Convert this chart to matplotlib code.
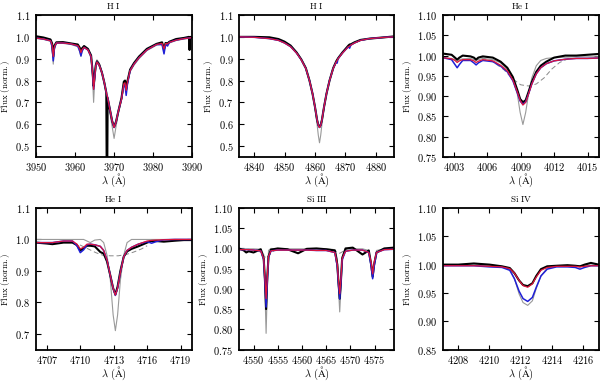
import numpy as np
import matplotlib
matplotlib.use("Agg")
import matplotlib.pyplot as plt

plt.rcParams['font.family'] = 'cmr10'
plt.rcParams['mathtext.fontset'] = 'cm'
plt.rcParams['axes.formatter.use_mathtext'] = True

# ---- H I (3970) ----
wl1 = [3950, 3952, 3953.8, 3954.2, 3954.5, 3954.8, 3955.3, 3957, 3959, 3960.8,
       3961.3, 3961.6, 3961.9, 3962.4, 3963.4, 3964.2, 3964.6, 3964.85, 3965.1, 3965.4,
       3965.7, 3966.3, 3967.0, 3967.6, 3968.1, 3968.2, 3968.35, 3968.45, 3969.0, 3969.6,
       3970.1, 3970.6, 3971.2, 3972.0, 3972.6, 3972.9, 3973.2, 3973.5, 3974.2, 3975.2,
       3976.5, 3978.5, 3981.0, 3982.4, 3982.9, 3983.3, 3983.8, 3984.3, 3986, 3988,
       3989.3, 3989.45, 3989.6, 3990]
red1 = [0.995, 0.99, 0.982, 0.965, 0.91, 0.955, 0.972, 0.972, 0.968, 0.96,
        0.945, 0.928, 0.942, 0.952, 0.94, 0.91, 0.83, 0.76, 0.81, 0.865,
        0.885, 0.87, 0.835, 0.79, 0.745, 0.738, 0.73, 0.722, 0.67, 0.615,
        0.585, 0.61, 0.66, 0.715, 0.785, 0.79, 0.755, 0.79, 0.845, 0.875,
        0.905, 0.94, 0.965, 0.97, 0.945, 0.97, 0.968, 0.975, 0.985, 0.992,
        0.995, 0.995, 0.995, 0.997]
blue1 = [0.995, 0.99, 0.982, 0.955, 0.89, 0.95, 0.972, 0.972, 0.968, 0.958,
         0.935, 0.913, 0.935, 0.952, 0.94, 0.91, 0.83, 0.76, 0.81, 0.865,
         0.885, 0.87, 0.835, 0.79, 0.745, 0.738, 0.73, 0.722, 0.67, 0.615,
         0.585, 0.61, 0.66, 0.715, 0.78, 0.78, 0.732, 0.78, 0.845, 0.875,
         0.905, 0.94, 0.965, 0.965, 0.922, 0.965, 0.958, 0.975, 0.985, 0.992,
         0.995, 0.995, 0.995, 0.997]
grey1 = [0.993, 0.988, 0.98, 0.95, 0.875, 0.945, 0.97, 0.97, 0.965, 0.955,
         0.93, 0.91, 0.935, 0.95, 0.94, 0.9, 0.8, 0.70, 0.79, 0.87,
         0.895, 0.88, 0.84, 0.785, 0.74, 0.73, 0.72, 0.71, 0.655, 0.59,
         0.535, 0.59, 0.65, 0.71, 0.78, 0.78, 0.745, 0.785, 0.84, 0.87,
         0.9, 0.937, 0.962, 0.965, 0.93, 0.965, 0.965, 0.972, 0.983, 0.99,
         0.993, 0.993, 0.993, 0.995]
obs1 = [1.003, 0.997, 0.988, 0.97, 0.91, 0.96, 0.975, 0.976, 0.97, 0.965,
        0.95, 0.93, 0.948, 0.958, 0.945, 0.915, 0.84, 0.775, 0.82, 0.87,
        0.888, 0.872, 0.835, 0.79, 0.745, 0.40, 0.40, 0.72, 0.67, 0.615,
        0.588, 0.612, 0.66, 0.72, 0.795, 0.80, 0.76, 0.795, 0.85, 0.88,
        0.91, 0.945, 0.968, 0.975, 0.945, 0.972, 0.97, 0.978, 0.99, 0.995,
        1.0, 0.94, 1.0, 0.998]

# ---- H I (4861) ----
wl2 = [4835, 4840, 4845, 4848, 4850, 4852, 4854, 4855.5, 4857, 4858.2,
       4859.2, 4860.0, 4860.7, 4861.1, 4861.5, 4861.9, 4862.3, 4863.0, 4863.8, 4864.8,
       4866.0, 4867.0, 4867.3, 4867.6, 4869.0, 4871.0, 4871.4, 4871.8, 4873.0, 4875.0,
       4878.0, 4883.0, 4886]
red2 = [1.0, 0.998, 0.992, 0.984, 0.972, 0.955, 0.925, 0.895, 0.855, 0.80,
        0.74, 0.68, 0.62, 0.595, 0.585, 0.595, 0.62, 0.68, 0.74, 0.80,
        0.855, 0.885, 0.893, 0.90, 0.925, 0.955, 0.958, 0.962, 0.972, 0.984,
        0.992, 0.998, 1.0]
blue2 = [1.0, 0.998, 0.992, 0.984, 0.972, 0.955, 0.925, 0.895, 0.855, 0.80,
         0.74, 0.68, 0.62, 0.595, 0.585, 0.595, 0.62, 0.68, 0.74, 0.80,
         0.855, 0.885, 0.88, 0.90, 0.925, 0.955, 0.948, 0.962, 0.972, 0.984,
         0.992, 0.998, 1.0]
grey2 = [1.0, 0.998, 0.992, 0.984, 0.972, 0.955, 0.925, 0.895, 0.855, 0.80,
         0.74, 0.675, 0.60, 0.55, 0.515, 0.55, 0.60, 0.675, 0.74, 0.80,
         0.855, 0.885, 0.893, 0.90, 0.925, 0.955, 0.958, 0.962, 0.972, 0.984,
         0.992, 0.998, 1.0]
obs2 = [1.0, 1.0, 0.998, 0.99, 0.978, 0.96, 0.928, 0.897, 0.857, 0.80,
        0.74, 0.68, 0.62, 0.597, 0.588, 0.597, 0.62, 0.68, 0.74, 0.80,
        0.857, 0.888, 0.895, 0.902, 0.928, 0.96, 0.965, 0.966, 0.975, 0.986,
        0.992, 0.998, 1.002]

# ---- He I (4009) ----
wl3 = [4002, 4002.8, 4003.1, 4003.3, 4003.5, 4003.8, 4004.5, 4004.8, 4005.0, 4005.2,
       4005.6, 4006.5, 4007.2, 4007.8, 4008.3, 4008.7, 4008.95, 4009.2, 4009.45, 4009.7,
       4010.0, 4010.4, 4010.8, 4011.3, 4012.0, 4013.0, 4014.0, 4015.0, 4016.0]
red3 = [0.995, 0.992, 0.988, 0.983, 0.987, 0.99, 0.99, 0.987, 0.983, 0.986,
        0.99, 0.987, 0.976, 0.962, 0.94, 0.91, 0.89, 0.878, 0.885, 0.905,
        0.93, 0.955, 0.97, 0.98, 0.987, 0.991, 0.993, 0.993, 0.994]
blue3 = [0.995, 0.99, 0.978, 0.97, 0.978, 0.988, 0.988, 0.982, 0.977, 0.982,
         0.988, 0.985, 0.974, 0.96, 0.938, 0.908, 0.888, 0.88, 0.886, 0.905,
         0.93, 0.955, 0.97, 0.98, 0.987, 0.991, 0.993, 0.993, 0.994]
grey3 = [0.995, 0.993, 0.99, 0.986, 0.99, 0.992, 0.993, 0.99, 0.988, 0.99,
         0.993, 0.99, 0.982, 0.965, 0.94, 0.905, 0.86, 0.83, 0.86, 0.905,
         0.945, 0.975, 0.988, 0.993, 0.995, 0.996, 0.997, 0.997, 0.997]
obs3 = [1.005, 1.002, 0.995, 0.99, 0.995, 1.0, 0.998, 0.995, 0.99, 0.995,
        0.998, 0.995, 0.985, 0.97, 0.947, 0.915, 0.893, 0.885, 0.89, 0.91,
        0.935, 0.96, 0.975, 0.985, 0.995, 1.0, 1.0, 1.002, 1.004]
dwl3 = [4005.5, 4006.5, 4007.5, 4008.3, 4009.0, 4009.7, 4010.4, 4011.1, 4011.8, 4012.5, 4013.5]
dash3 = [0.995, 0.985, 0.965, 0.942, 0.928, 0.925, 0.93, 0.945, 0.967, 0.983, 0.995]

# ---- He I (4713) ----
wl4 = [4706, 4707, 4707.5, 4708.5, 4709.3, 4709.7, 4710.0, 4710.3, 4710.6, 4710.9,
       4711.3, 4711.8, 4712.1, 4712.4, 4712.7, 4712.95, 4713.15, 4713.35, 4713.6, 4713.9,
       4714.2, 4714.6, 4715.2, 4716.0, 4716.4, 4716.8, 4717.5, 4718.5, 4719.3, 4720]
red4 = [0.99, 0.99, 0.99, 0.995, 0.995, 0.985, 0.97, 0.975, 0.985, 0.985,
        0.983, 0.978, 0.965, 0.935, 0.885, 0.845, 0.823, 0.845, 0.895, 0.945,
        0.965, 0.975, 0.985, 0.995, 0.997, 0.998, 0.999, 1.0, 1.0, 1.0]
blue4 = [0.99, 0.99, 0.99, 0.995, 0.995, 0.98, 0.958, 0.967, 0.983, 0.985,
         0.983, 0.978, 0.965, 0.935, 0.885, 0.845, 0.822, 0.845, 0.895, 0.945,
         0.965, 0.975, 0.985, 0.993, 0.988, 0.993, 0.999, 1.0, 1.0, 1.0]
grey4 = [1.0, 1.0, 1.0, 1.0, 1.0, 1.0, 1.0, 1.0, 0.995, 0.99,
         0.998, 1.0, 0.99, 0.95, 0.87, 0.76, 0.71, 0.76, 0.87, 0.95,
         0.99, 1.0, 1.0, 1.0, 1.0, 1.0, 1.0, 1.0, 1.0, 1.0]
obs4 = [0.99, 0.987, 0.985, 0.99, 0.99, 0.982, 0.965, 0.972, 0.98, 0.98,
        0.978, 0.96, 0.955, 0.93, 0.885, 0.845, 0.825, 0.85, 0.9, 0.945,
        0.962, 0.97, 0.978, 0.99, 0.995, 0.995, 0.993, 0.996, 0.998, 0.998]
dwl4 = [4709.3, 4710.0, 4710.7, 4711.4, 4712.0, 4712.7, 4713.4, 4714.1, 4714.8, 4715.5, 4716.0]
dash4 = [0.99, 0.982, 0.97, 0.958, 0.95, 0.948, 0.948, 0.952, 0.96, 0.97, 0.98]

# ---- Si III ----
wl5 = [4547, 4548, 4548.5, 4549, 4550, 4551.5, 4552.1, 4552.35, 4552.6, 4552.85,
       4553.1, 4553.6, 4555, 4557, 4559.2, 4561, 4563, 4565, 4566.8, 4567.3,
       4567.55, 4567.8, 4568.05, 4568.3, 4569, 4570.5, 4572.5, 4573.8, 4574.3, 4574.6,
       4574.9, 4575.4, 4577, 4579]
red5 = [0.997, 0.997, 0.997, 0.997, 0.996, 0.994, 0.975, 0.93, 0.876, 0.93,
        0.98, 0.994, 0.996, 0.996, 0.996, 0.996, 0.995, 0.995, 0.99, 0.96,
        0.92, 0.888, 0.925, 0.975, 0.993, 0.996, 0.996, 0.99, 0.965, 0.937,
        0.965, 0.99, 0.997, 0.998]
blue5 = [0.997, 0.997, 0.997, 0.997, 0.996, 0.994, 0.972, 0.92, 0.855, 0.92,
         0.978, 0.994, 0.996, 0.996, 0.996, 0.996, 0.995, 0.995, 0.99, 0.955,
         0.91, 0.875, 0.915, 0.972, 0.993, 0.996, 0.996, 0.99, 0.955, 0.925,
         0.955, 0.99, 0.997, 0.998]
grey5 = [0.999, 0.999, 0.999, 0.999, 0.999, 0.998, 0.985, 0.9, 0.79, 0.9,
         0.995, 1.0, 0.999, 0.999, 0.999, 0.999, 0.999, 0.999, 0.997, 0.975,
         0.9, 0.843, 0.9, 0.98, 0.998, 0.999, 0.999, 0.995, 0.96, 0.93,
         0.96, 0.995, 0.999, 0.999]
obs5 = [1.0, 0.995, 0.99, 0.993, 0.99, 0.998, 0.975, 0.925, 0.85, 0.93,
        0.98, 0.997, 1.0, 0.998, 0.988, 0.999, 1.0, 0.998, 0.995, 0.96,
        0.915, 0.876, 0.92, 0.975, 1.0, 1.002, 0.985, 0.995, 0.96, 0.93,
        0.96, 0.99, 1.0, 1.002]
dwl5 = [4550.5, 4551.5, 4552.6, 4553.7, 4554.7, np.nan, 4566.3, 4567.8, 4569.3]
dash5 = [0.998, 0.99, 0.976, 0.99, 0.998, np.nan, 0.998, 0.988, 0.998]

# ---- Si IV ----
wl6 = [4207, 4208, 4209, 4210, 4210.8, 4211.3, 4211.6, 4211.9, 4212.15, 4212.45,
       4212.75, 4213.0, 4213.3, 4213.7, 4214.3, 4215.0, 4215.5, 4215.8, 4216.1, 4216.5, 4217]
red6 = [0.998, 0.998, 0.998, 0.997, 0.996, 0.993, 0.985, 0.972, 0.963, 0.96,
        0.966, 0.978, 0.99, 0.995, 0.997, 0.997, 0.997, 0.996, 0.997, 0.998, 0.998]
blue6 = [0.998, 0.998, 0.998, 0.996, 0.995, 0.99, 0.975, 0.953, 0.94, 0.935,
         0.942, 0.96, 0.98, 0.992, 0.996, 0.996, 0.995, 0.992, 0.995, 0.998, 0.998]
grey6 = [0.999, 0.999, 0.999, 0.998, 0.997, 0.992, 0.975, 0.948, 0.933, 0.928,
         0.936, 0.958, 0.98, 0.994, 0.998, 0.998, 0.998, 0.998, 0.998, 0.999, 0.999]
obs6 = [1.0, 1.0, 1.002, 1.0, 0.997, 0.994, 0.985, 0.972, 0.964, 0.962,
        0.967, 0.98, 0.992, 0.997, 0.998, 0.999, 0.998, 0.997, 1.0, 1.003, 1.0]

titles = [r'$\mathrm{H\ I}$', r'$\mathrm{H\ I}$', r'$\mathrm{He\ I}$',
          r'$\mathrm{He\ I}$', r'$\mathrm{Si\ III}$', r'$\mathrm{Si\ IV}$']

panels = [
    (wl1, obs1, blue1, red1, grey1, None, None, (3950, 3990), (0.45, 1.1), np.arange(3950, 3991, 10), np.arange(0.5, 1.11, 0.1)),
    (wl2, obs2, blue2, red2, grey2, None, None, (4835, 4886), (0.45, 1.1), np.arange(4840, 4881, 10), np.arange(0.5, 1.11, 0.1)),
    (wl3, obs3, blue3, red3, grey3, dwl3, dash3, (4002, 4016), (0.75, 1.10), np.arange(4003, 4016, 3), np.arange(0.75, 1.101, 0.05)),
    (wl4, obs4, blue4, red4, grey4, dwl4, dash4, (4706, 4720), (0.65, 1.1), np.arange(4707, 4720, 3), np.arange(0.7, 1.11, 0.1)),
    (wl5, obs5, blue5, red5, grey5, dwl5, dash5, (4547, 4579), (0.75, 1.10), np.arange(4550, 4576, 5), np.arange(0.75, 1.101, 0.05)),
    (wl6, obs6, blue6, red6, grey6, None, None, (4207, 4217), (0.85, 1.10), np.arange(4208, 4217, 2), np.arange(0.85, 1.101, 0.05)),
]

lefts = [0.0595, 0.3983, 0.7378]
widths = [0.26, 0.2583, 0.26]
rows = [(0.589, 0.3717), (0.085, 0.3705)]

fig = plt.figure(figsize=(6.0, 3.82), dpi=100)

for i, (wl, obs, blue, red, grey, dwl, dash, xl, yl, xt, yt) in enumerate(panels):
    r, c = divmod(i, 3)
    ax = fig.add_axes([lefts[c], rows[r][0], widths[c], rows[r][1]])
    ax.plot(wl, grey, color='#999999', lw=0.8)
    if dwl is not None:
        ax.plot(dwl, dash, color='#888888', lw=0.7, ls=(0, (5, 3)))
    ax.plot(wl, obs, color='black', lw=1.5)
    ax.plot(wl, blue, color='#1f1fd6', lw=1.1)
    ax.plot(wl, red, color='#dc143c', lw=0.9)
    ax.set_xlim(*xl)
    ax.set_ylim(*yl)
    ax.set_xticks(xt)
    ax.set_yticks(np.round(yt, 2))
    ax.tick_params(direction='in', top=True, right=True, length=3.5, width=0.8, labelsize=7.5)
    ax.tick_params(axis='x', pad=3)
    ax.tick_params(axis='y', pad=4)
    for s in ax.spines.values():
        s.set_linewidth(1.3)
    ax.set_title(titles[i], fontsize=6.5, pad=4)
    ax.set_xlabel(r'$\lambda\ (\mathrm{\AA})$', fontsize=7.5, labelpad=-1)
    ax.set_ylabel(r'$\mathrm{Flux\ (norm.)}$', fontsize=6.5, labelpad=2.5)

fig.savefig('out.png', dpi=100)
